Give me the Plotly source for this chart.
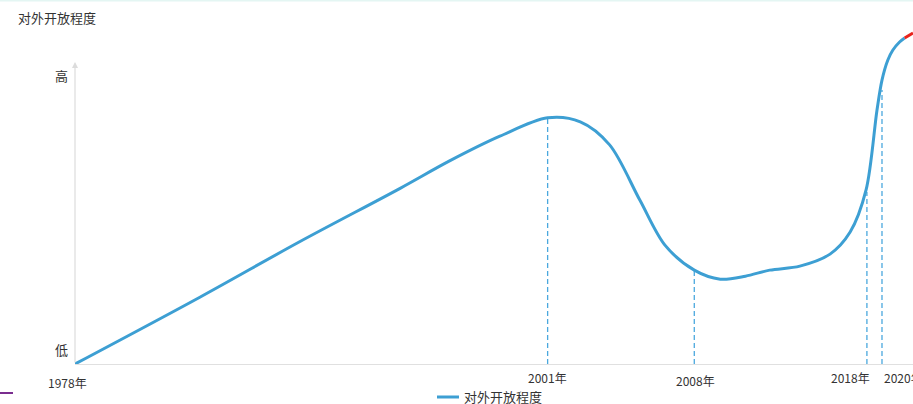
import plotly.graph_objects as go

# ---- data ----
# timeline position (0 = 1978, 100 = right edge of chart) and openness level (0 = 低, ~90 = 高)
curve_x = [0, 14.9, 26.8, 38.8, 44.7, 50.7, 56.4, 60.3, 63.8, 67.4, 70.4, 73.9, 77.0,
           80.0, 82.9, 86.5, 90.1, 92.5, 94.4, 95.7, 96.3, 97.0, 97.6, 98.4, 99.0]
curve_y = [0, 20.0, 36.6, 52.6, 60.8, 68.2, 73.7, 72.5, 65.6, 49.1, 35.6, 28.1, 25.4,
           26.3, 28.1, 29.3, 32.9, 39.5, 52.1, 76.0, 85.0, 91.0, 94.0, 96.4, 97.6]
red_x = [99.0, 100.0]
red_y = [97.6, 99.1]

year_labels = ["1978年", "2001年", "2008年", "2018年", "2020年"]
year_pos = [0, 56.4, 73.9, 94.5, 96.3]
marker_pos = [56.4, 73.9, 94.5, 96.3]      # dashed guide lines
marker_top = [73.7, 28.1, 51.5, 82.0]

level_labels = ["高", "低"]
level_vals = [86.5, 4.2]

series_name = "对外开放程度"
FONT = "Noto Sans CJK SC, Microsoft YaHei, sans-serif"
BLUE = "#3d9fd3"

fig = go.Figure()

for xp, top in zip(marker_pos, marker_top):
    fig.add_trace(go.Scatter(x=[xp, xp], y=[0, top], mode="lines",
                             line=dict(color="#4aa8de", width=1.3, dash="5px,3px"),
                             showlegend=False, hoverinfo="skip"))

fig.add_trace(go.Scatter(x=curve_x, y=curve_y, mode="lines", name=series_name,
                         line=dict(color=BLUE, width=3, shape="spline", smoothing=0.9),
                         showlegend=False))
fig.add_trace(go.Scatter(x=red_x, y=red_y, mode="lines",
                         line=dict(color="#e8231c", width=3),
                         showlegend=False, hoverinfo="skip", cliponaxis=False))

# y axis arrow
fig.add_annotation(x=0, y=90.4, ax=0, ay=0, xref="x", yref="y", axref="x", ayref="y",
                   showarrow=True, arrowhead=2, arrowsize=1, arrowwidth=1.2,
                   arrowcolor="#dcdcdc", text="")

for lab, v in zip(level_labels, level_vals):
    fig.add_annotation(x=0, y=v, xref="x", yref="y", text=lab, showarrow=False,
                       xshift=-14, font=dict(family=FONT, size=13, color="#333"))

xshifts = [-8, 0, 1, -16, 22]
yshifts = [-18, -13, -16, -13, -13]
for lab, xp, dx, dy in zip(year_labels, year_pos, xshifts, yshifts):
    fig.add_annotation(x=xp, y=0, xref="x", yref="y", text=lab, showarrow=False,
                       xshift=dx, yshift=dy, yanchor="middle",
                       font=dict(family=FONT, size=12, color="#333"))

# legend (drawn manually)
fig.add_shape(type="line", xref="paper", yref="paper",
              x0=(437 - 75) / 838, x1=(459 - 75) / 838,
              y0=(364 - 397) / 334, y1=(364 - 397) / 334,
              line=dict(color=BLUE, width=3))
fig.add_annotation(xref="paper", yref="paper", x=(462 - 75) / 838, y=(364 - 396) / 334,
                   text=series_name, showarrow=False, xanchor="left", yanchor="middle",
                   font=dict(family=FONT, size=13, color="#333"))

# small decorative marks from the original screenshot
fig.add_shape(type="line", xref="paper", yref="paper",
              x0=-75 / 838, x1=-62 / 838, y0=(364 - 393) / 334, y1=(364 - 393) / 334,
              line=dict(color="#7a2d8f", width=2))
fig.add_shape(type="line", xref="paper", yref="paper",
              x0=-75 / 838, x1=1, y0=363.5 / 334, y1=363.5 / 334,
              line=dict(color="#e4f6f3", width=2))

fig.update_layout(
    width=913, height=404,
    margin=dict(l=75, r=0, t=30, b=40),
    paper_bgcolor="white", plot_bgcolor="white",
    title=dict(text=series_name, xref="container", yref="container",
               x=18 / 913, xanchor="left", y=1 - 18 / 404, yanchor="middle",
               font=dict(family=FONT, size=13, color="#333")),
    xaxis=dict(range=[0, 100], showgrid=False, zeroline=False, showticklabels=False,
               showline=True, linecolor="#e0e0e0", linewidth=1, ticks=""),
    yaxis=dict(range=[0, 100], showgrid=False, zeroline=False, showticklabels=False,
               showline=False, ticks=""),
    showlegend=False,
)

fig.write_html("out.html", config={"displayModeBar": False},
               post_script="document.body.style.margin='0px';document.body.style.overflow='hidden';")
